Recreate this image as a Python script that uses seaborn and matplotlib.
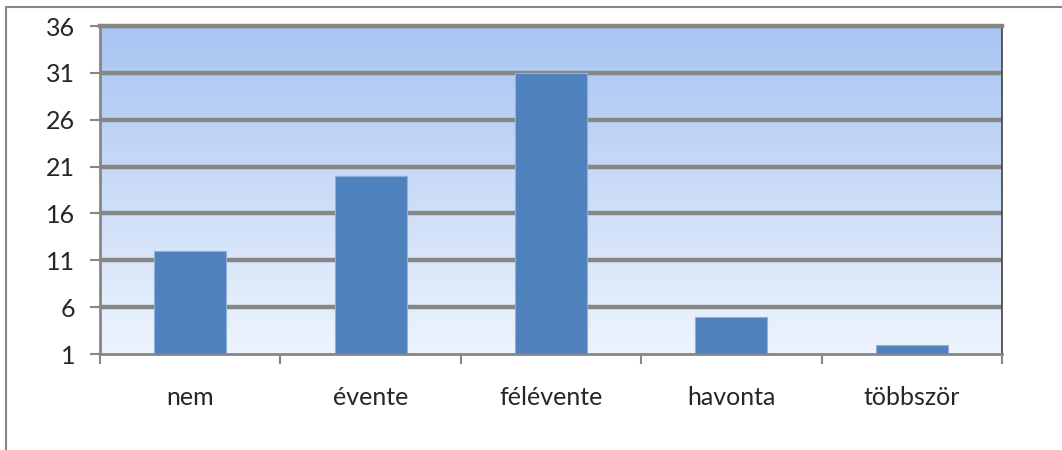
import numpy as np
import matplotlib
matplotlib.use("Agg")
import matplotlib.pyplot as plt
from matplotlib.colors import LinearSegmentedColormap
from matplotlib.lines import Line2D
import seaborn as sns

categories = ['nem', 'évente', 'félévente', 'havonta', 'többször']
values = [12, 20, 31, 5, 2]
yticks = [1, 6, 11, 16, 21, 26, 31, 36]

sns.set_style('white')
plt.rcParams['font.family'] = ['Lato', 'DejaVu Sans']

fig = plt.figure(figsize=(10.62, 4.5), dpi=100)
ax = fig.add_axes([100 / 1062, 1 - 354 / 450, 902 / 1062, 328 / 450])

# gradient background, darker blue at top
cmap = LinearSegmentedColormap.from_list('bg', ['#eef4fd', '#a7c4f2'])
grad = np.linspace(0, 1, 256).reshape(-1, 1)
ax.imshow(grad, extent=[-0.5, 4.5, 1, 36], origin='lower', aspect='auto',
          cmap=cmap, zorder=0)

# grid lines
for v in yticks[1:]:
    ax.axhline(v, color='#868686', lw=3.2, zorder=1)

sns.barplot(x=categories, y=values, color='#4f81bd', width=0.4,
            saturation=1, edgecolor='#8eb0dc', linewidth=0.8, zorder=2, ax=ax)

ax.set_xlim(-0.5, 4.5)
ax.set_ylim(1, 36)
ax.set_yticks(yticks)
ax.set_xlabel('')
ax.set_ylabel('')

ax.set_xticks(np.arange(len(categories)))
ax.set_xticklabels(categories)
ax.set_xticks(np.arange(-0.5, len(categories)), minor=True)
ax.tick_params(axis='x', which='major', length=0, pad=23, labelsize=18)
ax.tick_params(axis='x', which='minor', length=7, width=1.5, color='#868686',
               direction='out', bottom=True)
ax.tick_params(axis='y', length=7, width=1.5, color='#868686', direction='out',
               left=True, pad=11, labelsize=18)

for s in ['left', 'bottom']:
    ax.spines[s].set_color('#868686')
    ax.spines[s].set_linewidth(2)
ax.spines['top'].set_color('#868686')
ax.spines['top'].set_linewidth(3.2)
ax.spines['right'].set_color('#404040')
ax.spines['right'].set_linewidth(1.2)
for s in ax.spines.values():
    s.set_visible(True)

# outer chart border (top and left only visible)
fig.add_artist(Line2D([6 / 1062, 1.0], [1 - 7 / 450, 1 - 7 / 450],
                      transform=fig.transFigure, color='#868686', lw=1.5))
fig.add_artist(Line2D([6 / 1062, 6 / 1062], [0.0, 1 - 7 / 450],
                      transform=fig.transFigure, color='#868686', lw=1.5))

fig.savefig('out.png', dpi=100)
